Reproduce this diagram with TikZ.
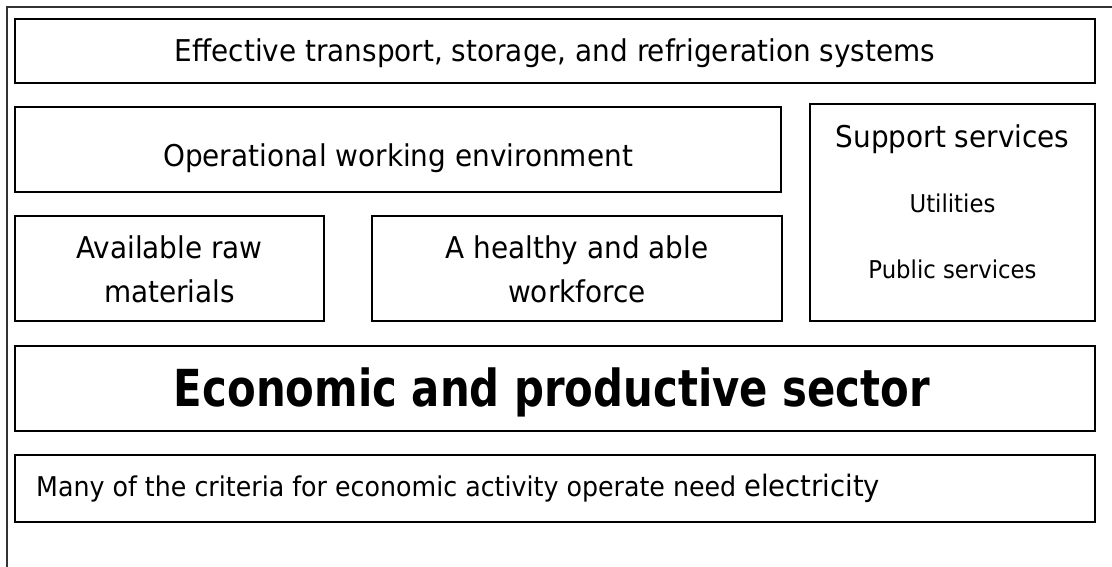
\documentclass[tikz,border=0pt]{standalone}
\usepackage{fontspec}
\setmainfont{DejaVu Sans}[FakeStretch=0.93]
\newfontfamily\boldf{DejaVu Sans Bold}[FakeStretch=0.82]
\begin{document}
\begin{tikzpicture}[x=1pt,y=-1pt,
  box/.style={draw=black,line width=1.3pt,inner sep=0pt},
  txt/.style={anchor=base,inner sep=0pt,font=\fontsize{30}{36}\selectfont},
  small/.style={anchor=base,inner sep=0pt,font=\fontsize{24.5}{30}\selectfont}]
\useasboundingbox (0,0) rectangle (1112,566);
\clip (0,0) rectangle (1112,566);
\fill[white] (0,0) rectangle (1112,566);
\draw[line width=1.1pt,black!80] (7,7) rectangle (1130,590);
% boxes
\node[box,minimum width=1080pt,minimum height=64pt] (transbox) at (555,51) {};
\node[box,minimum width=766pt,minimum height=85pt] (operbox) at (398,149.5) {};
\node[box,minimum width=285pt,minimum height=217pt] (suppbox) at (952.5,212.5) {};
\node[box,minimum width=309pt,minimum height=105pt] (rawbox) at (169.5,268.5) {};
\node[box,minimum width=410pt,minimum height=105pt] (workbox) at (577,268.5) {};
\node[box,minimum width=1080pt,minimum height=85pt] (econbox) at (555,388.5) {};
\node[box,minimum width=1080pt,minimum height=67pt] (manybox) at (555,488.5) {};
% texts
\node[txt] (trans) at (555,61) {Effective transport, storage, and refrigeration systems};
\node[txt] (oper) at (398,166) {Operational working environment};
\node[txt] (supp) at (952.5,147) {Support services};
\node[small] (util) at (952.5,212) {Utilities};
\node[small] (pub) at (952.5,278) {Public services};
\node[txt] (raw1) at (169.5,258) {Available raw};
\node[txt] (raw2) at (169.5,302) {materials};
\node[txt] (work1) at (577,258) {A healthy and able};
\node[txt] (work2) at (577,302) {workforce};
\node[anchor=base,inner sep=0pt,font=\boldf\fontsize{51}{60}\selectfont] (econ) at (552,406) {Economic and productive sector};
\node[anchor=base west,inner sep=0pt,font=\fontsize{27.2}{32}\selectfont] (many) at (36,496) {Many of the criteria for economic activity operate need {\fontsize{29.5}{32}\selectfont electricity}};
\end{tikzpicture}
\end{document}
